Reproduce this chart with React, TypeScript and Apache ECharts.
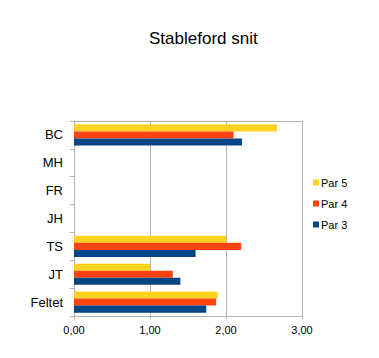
import React, { useEffect, useRef } from "react";
import * as echarts from "echarts";

const categories = ["BC", "MH", "FR", "JH", "TS", "JT", "Feltet"];
const par5 = [2.67, null, null, null, 2.0, 1.0, 1.89];
const par4 = [2.1, null, null, null, 2.2, 1.3, 1.87];
const par3 = [2.21, null, null, null, 1.6, 1.4, 1.74];
const seriesNames = ["Par 5", "Par 4", "Par 3"];
const colors = ["#ffd320", "#ff420e", "#004586"];

export default function App() {
  const ref = useRef<HTMLDivElement>(null);
  useEffect(() => {
    document.body.style.margin = "0";
    if (!ref.current) return;
    const chart = echarts.init(ref.current, null, { renderer: "svg" });
    const font = "'Liberation Sans', Arial, sans-serif";
    const data = [par5, par4, par3];
    chart.setOption({
      animation: false,
      textStyle: { fontFamily: font },
      title: {
        text: "Stableford snit",
        left: 149,
        top: 30,
        padding: 0,
        textStyle: { fontSize: 17, fontWeight: "normal", color: "#000", fontFamily: font },
      },
      legend: {
        orient: "vertical",
        left: 308,
        top: 172,
        itemWidth: 6,
        itemHeight: 6,
        itemGap: 10,
        icon: "rect",
        data: seriesNames,
        textStyle: { fontSize: 11, color: "#000", fontFamily: font, padding: [0, 0, 0, -3] },
      },
      grid: { left: 74, right: 77, top: 121, bottom: 42 },
      xAxis: {
        type: "value",
        min: 0,
        max: 3,
        interval: 1,
        axisLine: { show: true, lineStyle: { color: "#b3b3b3" } },
        axisTick: { show: true, length: 3, lineStyle: { color: "#b3b3b3" } },
        splitLine: { show: true, lineStyle: { color: "#b3b3b3" } },
        axisLabel: {
          fontSize: 11,
          color: "#000",
          margin: 8,
          formatter: (v: number) => v.toFixed(2).replace(".", ","),
        },
      },
      yAxis: [
        {
          type: "category",
          data: categories,
          inverse: true,
          axisLine: { show: true, lineStyle: { color: "#b3b3b3" } },
          axisTick: { show: true, length: 4, lineStyle: { color: "#b3b3b3" } },
          axisLabel: { fontSize: 13, color: "#000", margin: 11 },
        },
      ],
      series: seriesNames.map((name, i) => ({
        name,
        type: "bar",
        data: data[i],
        barGap: "0%",
        barCategoryGap: "24%",
        itemStyle: { color: colors[i] },
      })),
      graphic: [
        {
          type: "line",
          shape: { x1: 74, y1: 121.5, x2: 302, y2: 121.5 },
          style: { stroke: "#b3b3b3", lineWidth: 1 },
        },
      ],
    });
    return () => chart.dispose();
  }, []);
  return <div ref={ref} style={{ width: 379, height: 358 }} />;
}
